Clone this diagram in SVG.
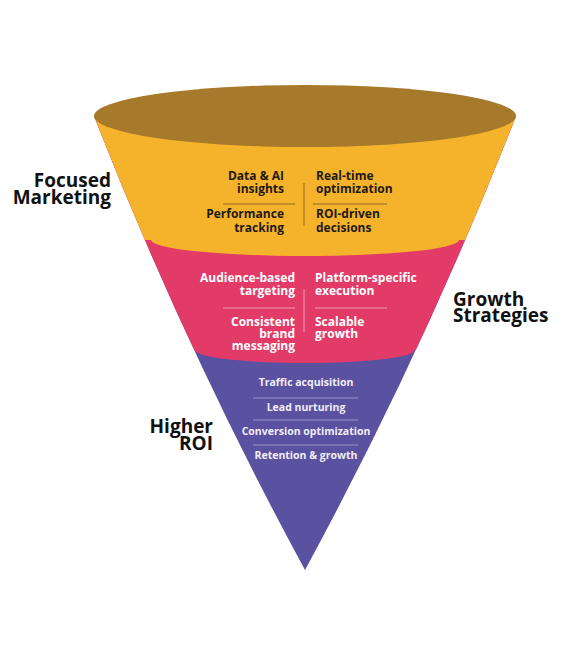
<svg xmlns="http://www.w3.org/2000/svg" width="570" height="660" viewBox="0 0 570 660">
  <defs>
    <clipPath id="funnelClip">
      <path d="M94,116 Q185,349 305,570 Q425,349 516,116 Z"/>
    </clipPath>
    <style>
      .lbl { font-family: "Open Sans", "Liberation Sans", sans-serif; font-weight: 700; font-size: 19px; fill: #111111; }
      .in { font-family: "Open Sans", "Liberation Sans", sans-serif; font-weight: 700; font-size: 12px; }
      .dark { fill: #1d1a14; }
      .light { fill: #ffffff; }
      .pl { font-family: "Open Sans", "Liberation Sans", sans-serif; font-weight: 700; font-size: 10.5px; fill: #f1eefa; }
      .divY { stroke: #8c6a2c; stroke-width: 1; }
      .divP { stroke: #f29ab3; stroke-width: 1; }
      .divU { stroke: #9d94cc; stroke-width: 1; }
    </style>
  </defs>

  <rect width="570" height="660" fill="#ffffff"/>

  <g id="funnel-body" clip-path="url(#funnelClip)">
    <rect x="0" y="0" width="570" height="660" fill="#5b51a1"/>
    <path d="M0,0 H570 V350 H415 A110 13 0 0 1 195 350 H0 Z" fill="#e23b68"/>
    <path d="M0,0 H570 V240 H459 A154 16 0 0 1 151 240 H0 Z" fill="#f5b22b"/>
  </g>

  <g id="funnel-top">
    <ellipse cx="305" cy="116" rx="211" ry="31" fill="#a67a2a"/>
  </g>

  <g id="band-focused">
    <text class="in dark" x="284" y="180" text-anchor="end">Data &amp; AI</text>
    <text class="in dark" x="284" y="193" text-anchor="end">insights</text>
    <line class="divY" x1="223" y1="204" x2="295" y2="204"/>
    <text class="in dark" x="284" y="218" text-anchor="end">Performance</text>
    <text class="in dark" x="284" y="232" text-anchor="end">tracking</text>
    <line class="divY" x1="304" y1="183" x2="304" y2="226"/>
    <text class="in dark" x="316" y="180">Real-time</text>
    <text class="in dark" x="316" y="193">optimization</text>
    <line class="divY" x1="313" y1="204" x2="387" y2="204"/>
    <text class="in dark" x="316" y="218">ROI-driven</text>
    <text class="in dark" x="316" y="232">decisions</text>
  </g>

  <g id="band-growth">
    <text class="in light" x="295" y="282" text-anchor="end">Audience-based</text>
    <text class="in light" x="295" y="295" text-anchor="end">targeting</text>
    <line class="divP" x1="223" y1="308" x2="295" y2="308"/>
    <text class="in light" x="295" y="326" text-anchor="end">Consistent</text>
    <text class="in light" x="295" y="338" text-anchor="end">brand</text>
    <text class="in light" x="295" y="350" text-anchor="end">messaging</text>
    <line class="divP" x1="304" y1="289" x2="304" y2="332"/>
    <text class="in light" x="315" y="282">Platform-specific</text>
    <text class="in light" x="315" y="295">execution</text>
    <line class="divP" x1="315" y1="308" x2="387" y2="308"/>
    <text class="in light" x="315" y="326">Scalable</text>
    <text class="in light" x="315" y="338">growth</text>
  </g>

  <g id="band-roi">
    <text class="pl" x="306" y="386" text-anchor="middle">Traffic acquisition</text>
    <line class="divU" x1="253" y1="398" x2="358" y2="398"/>
    <text class="pl" x="306" y="411" text-anchor="middle">Lead nurturing</text>
    <line class="divU" x1="253" y1="420" x2="358" y2="420"/>
    <text class="pl" x="306" y="435" text-anchor="middle">Conversion optimization</text>
    <line class="divU" x1="253" y1="445" x2="358" y2="445"/>
    <text class="pl" x="306" y="459" text-anchor="middle">Retention &amp; growth</text>
  </g>

  <g id="label-focused">
    <text class="lbl" x="111" y="187" text-anchor="end">Focused</text>
    <text class="lbl" x="111" y="204" text-anchor="end">Marketing</text>
  </g>
  <g id="label-growth">
    <text class="lbl" x="453" y="306">Growth</text>
    <text class="lbl" x="453" y="322">Strategies</text>
  </g>
  <g id="label-roi">
    <text class="lbl" x="213" y="433" text-anchor="end">Higher</text>
    <text class="lbl" x="213" y="450" text-anchor="end">ROI</text>
  </g>
</svg>
